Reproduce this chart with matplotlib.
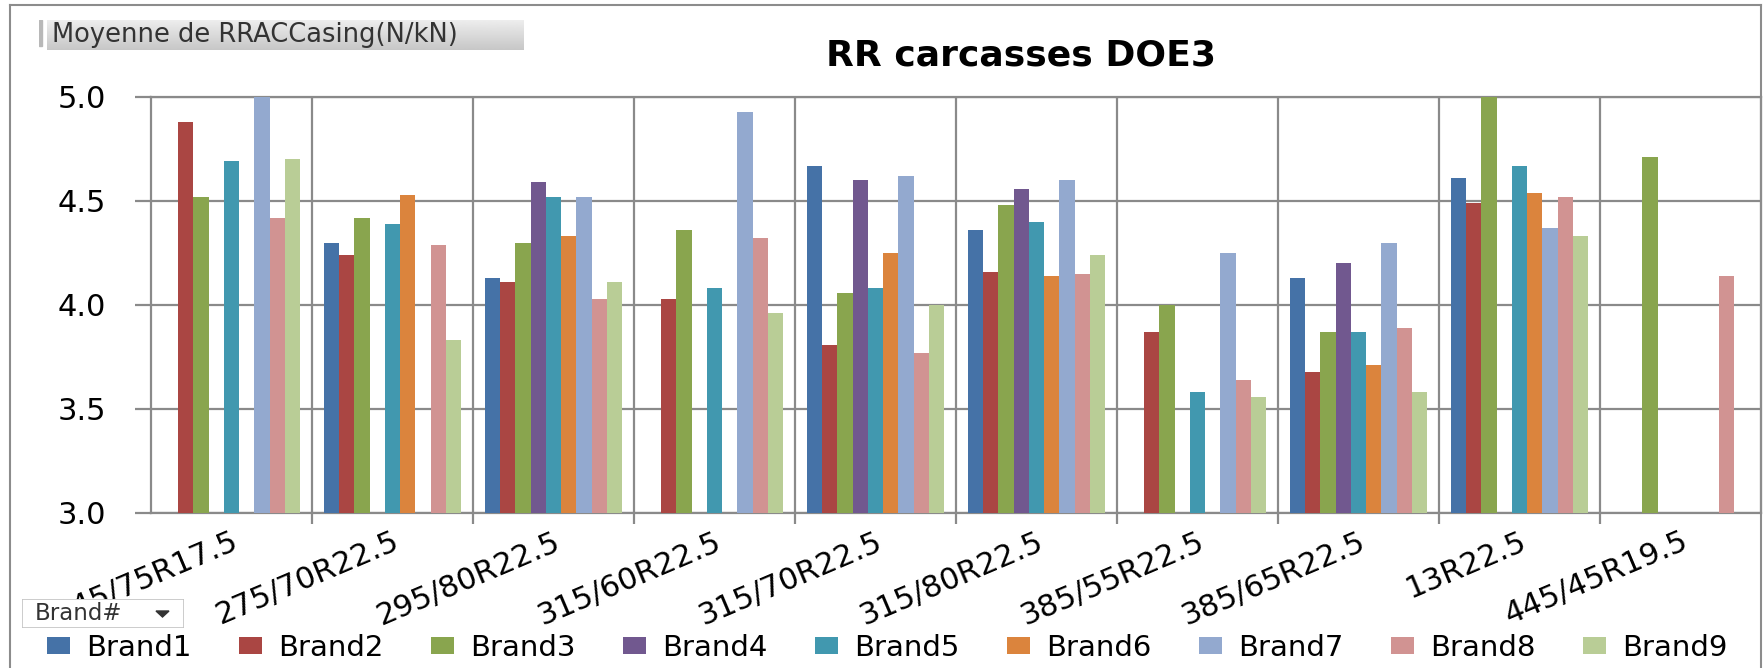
import numpy as np
import matplotlib
matplotlib.use("Agg")
import matplotlib.pyplot as plt
from matplotlib.patches import Patch, Polygon, Rectangle
from matplotlib.lines import Line2D

plt.rcParams['font.family'] = ['DejaVu Sans']

categories = ['245/75R17.5', '275/70R22.5', '295/80R22.5', '315/60R22.5', '315/70R22.5',
              '315/80R22.5', '385/55R22.5', '385/65R22.5', '13R22.5', '445/45R19.5']
nan = np.nan
brand1 = [nan, 4.30, 4.13, nan, 4.67, 4.36, nan, 4.13, 4.61, nan]
brand2 = [4.88, 4.24, 4.11, 4.03, 3.81, 4.16, 3.87, 3.68, 4.49, nan]
brand3 = [4.52, 4.42, 4.30, 4.36, 4.06, 4.48, 4.00, 3.87, 5.00, 4.71]
brand4 = [nan, nan, 4.59, nan, 4.60, 4.56, nan, 4.20, nan, nan]
brand5 = [4.69, 4.39, 4.52, 4.08, 4.08, 4.40, 3.58, 3.87, 4.67, nan]
brand6 = [nan, 4.53, 4.33, nan, 4.25, 4.14, nan, 3.71, 4.54, nan]
brand7 = [5.00, nan, 4.52, 4.93, 4.62, 4.60, 4.25, 4.30, 4.37, nan]
brand8 = [4.42, 4.29, 4.03, 4.32, 3.77, 4.15, 3.64, 3.89, 4.52, 4.14]
brand9 = [4.70, 3.83, 4.11, 3.96, 4.00, 4.24, 3.56, 3.58, 4.33, nan]
series = [brand1, brand2, brand3, brand4, brand5, brand6, brand7, brand8, brand9]
brand_names = ['Brand1', 'Brand2', 'Brand3', 'Brand4', 'Brand5', 'Brand6', 'Brand7', 'Brand8', 'Brand9']
colors = ['#4572A7', '#AA4643', '#89A54E', '#71588F', '#4198AF', '#DB843D', '#93A9CF', '#D19392', '#B9CD96']
yticks = [3.0, 3.5, 4.0, 4.5, 5.0]

W, H = 1764, 668
fig = plt.figure(figsize=(W / 100, H / 100), dpi=100)
ax = fig.add_axes([151 / W, 1 - 513 / H, (1761 - 151) / W, (513 - 97) / H])

grid_c = '#8a8a8a'
x = np.arange(len(categories))
w = 0.095
for j, (vals, col) in enumerate(zip(series, colors)):
    ax.bar(x + (j - 4) * w, vals, width=w, color=col, zorder=3, linewidth=0)

ax.set_xlim(-0.5, len(categories) - 0.5)
ax.set_ylim(3.0, 5.0)
ax.set_yticks(yticks)
ax.set_yticklabels([f'{v:.1f}' for v in yticks], fontsize=22)
ax.set_xticks(x)
ax.set_xticklabels(categories, fontsize=22, rotation=23, ha='right', va='top',
                   rotation_mode='anchor')
ax.set_xticks(np.arange(0.5, len(categories) - 0.5, 1.0), minor=True)
ax.tick_params(axis='x', which='major', length=0, pad=10)
ax.tick_params(axis='x', which='minor', length=8, width=1.6, color=grid_c, direction='out')
ax.tick_params(axis='y', which='major', length=11.5, width=1.6, color=grid_c, pad=21)
ax.grid(axis='y', which='major', color=grid_c, linewidth=1.6, zorder=1)
ax.grid(axis='x', which='minor', color=grid_c, linewidth=1.6, zorder=1)
for s in ax.spines.values():
    s.set_color(grid_c)
    s.set_linewidth(1.6)
ax.set_axisbelow(True)

# Title
fig.text(1021 / W, 1 - 56 / H, 'RR carcasses DOE3', ha='center', va='center',
         fontsize=26, fontweight='bold')

# Chart frame
frame_c = '#8c8c8c'
fig.add_artist(Line2D([10 / W, 10 / W], [0, 1 - 5 / H], color=frame_c, lw=1.5))
fig.add_artist(Line2D([10 / W, 1761 / W], [1 - 5 / H, 1 - 5 / H], color=frame_c, lw=1.5))
fig.add_artist(Line2D([1761 / W, 1761 / W], [0, 1 - 5 / H], color=frame_c, lw=1.5))

grad = np.linspace(0.93, 0.78, 50).reshape(-1, 1)

# "Moyenne" field button
bax = fig.add_axes([39 / W, 1 - 50 / H, (523 - 39) / W, 30 / H])
bax.axis('off')
bax.add_patch(Rectangle((39, 20), 3, 26, color='#b8b8b8'))
bax.imshow(grad, extent=(47, 523, 50, 20), cmap='gray', vmin=0, vmax=1, aspect='auto')
bax.set_xlim(39, 523)
bax.set_ylim(50, 20)
bax.text(52, 35, 'Moyenne de RRACCasing(N/kN)', fontsize=18.5, color='#333333',
         va='center', ha='left')

# "Brand#" field button
fax = fig.add_axes([22 / W, 1 - 628 / H, (184 - 22) / W, 29 / H])
fax.axis('off')
fax.add_patch(Rectangle((22, 599), 162, 29, facecolor='white', edgecolor='#c4c4c4', lw=1.2))
fax.imshow(grad, extent=(33, 133, 626, 601), cmap='gray', vmin=0, vmax=1, aspect='auto')
fax.set_xlim(22, 184)
fax.set_ylim(628, 599)
fax.add_patch(Polygon([[156, 611], [169, 611], [162.5, 617]], closed=True, color='#333333'))
fax.text(35, 613.5, 'Brand#', fontsize=16.5, color='#333333', va='center', ha='left')

# Legend
handles = [Patch(facecolor=c, edgecolor='none', label=n) for c, n in zip(colors, brand_names)]
fig.legend(handles=handles, loc='center left', bbox_to_anchor=(47 / W, 1 - 648 / H), ncol=9,
           frameon=False, fontsize=21, handlelength=0.79, handleheight=0.55,
           handletextpad=0.55, columnspacing=1.63, borderpad=0, borderaxespad=0)

fig.savefig('out.png', dpi=100)
